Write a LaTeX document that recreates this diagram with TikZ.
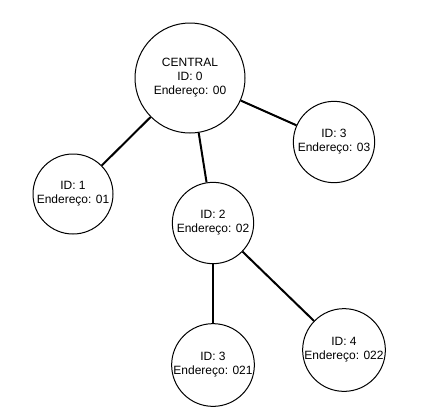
\documentclass[tikz,border=0pt]{standalone}
\usepackage{fontspec}
\setmainfont{Liberation Sans}
\begin{document}
\begin{tikzpicture}[x=0.75pt,y=-0.75pt,
  nodecirc/.style={circle,draw=black,line width=0.75pt,fill=white,align=center,inner sep=0pt,
    font=\fontsize{9pt}{10.5pt}\selectfont},
  link/.style={line width=1.5pt,black}]
\useasboundingbox (0,0) rectangle (427,415);
\node[nodecirc,minimum size=82.5pt] (c) at (190,78) {CENTRAL\\ID: 0\\Endereço: 00};
\node[nodecirc,minimum size=60pt] (n1) at (73,194) {ID: 1\\Endereço: 01};
\node[nodecirc,minimum size=61pt] (n2) at (213,223) {ID: 2\\Endereço: 02};
\node[nodecirc,minimum size=61pt] (n3) at (334,142) {ID: 3\\Endereço: 03};
\node[nodecirc,minimum size=61pt] (n21) at (213,365) {ID: 3\\Endereço: 021};
\node[nodecirc,minimum size=61pt] (n22) at (344,350) {ID: 4\\Endereço: 022};
\draw[link] (c) -- (n1);
\draw[link] (c) -- (n2);
\draw[link] (c) -- (n3);
\draw[link] (n2) -- (n21);
\draw[link] (n2) -- (n22);
\end{tikzpicture}
\end{document}
